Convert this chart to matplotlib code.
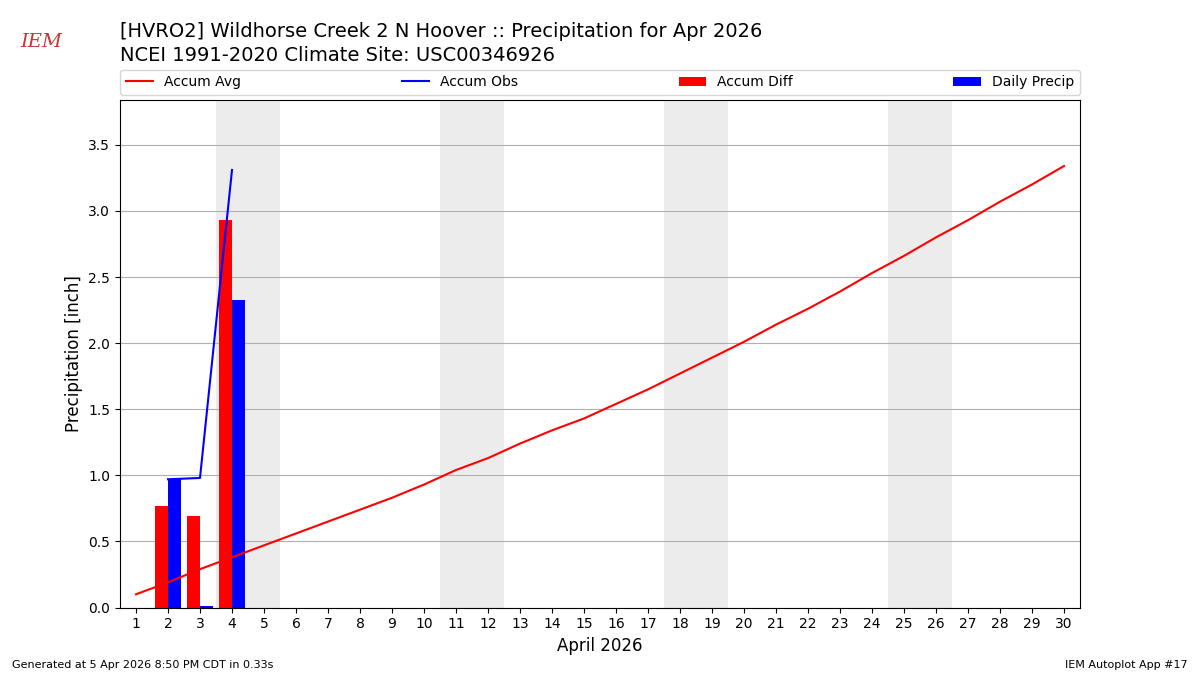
import numpy as np
import matplotlib.pyplot as plt

days = np.arange(1, 31)
accum_avg = [0.10, 0.19, 0.29, 0.38, 0.47, 0.56, 0.65, 0.74, 0.83, 0.93,
             1.04, 1.13, 1.24, 1.34, 1.43, 1.54, 1.65, 1.77, 1.89, 2.01,
             2.14, 2.26, 2.39, 2.53, 2.66, 2.80, 2.93, 3.07, 3.20, 3.34]
obs_days = [2, 3, 4]
accum_obs = [0.97, 0.98, 3.31]
daily_precip = [0.97, 0.01, 2.33]
accum_diff = [0.77, 0.69, 2.93]
weekends = [4, 5, 11, 12, 18, 19, 25, 26]

fig = plt.figure(figsize=(12, 6.75), dpi=100)
ax = fig.add_axes([0.1, 0.1, 0.8, 0.752])

for d in weekends:
    ax.axvspan(d - 0.5, d + 0.5, color='#ececec', zorder=0, lw=0)

ax.plot(days, accum_avg, color='r', label='Accum Avg', zorder=3)
ax.plot(obs_days, accum_obs, color='b', label='Accum Obs', zorder=3)
ax.bar(np.array(obs_days) - 0.2, accum_diff, width=0.4, color='r', label='Accum Diff', zorder=2)
ax.bar(np.array(obs_days) + 0.2, daily_precip, width=0.4, color='b', label='Daily Precip', zorder=2)

ax.set_xlim(0.5, 30.5)
ax.set_ylim(0, 3.84)
ax.set_xticks(days)
ax.set_yticks(np.arange(0, 3.6, 0.5))
ax.grid(axis='y', zorder=1)
ax.set_axisbelow(True)
ax.set_xlabel('April 2026', fontsize=12)
ax.set_ylabel('Precipitation [inch]', fontsize=12)
ax.legend(loc='lower left', bbox_to_anchor=(0, 1.01, 1, 0.05), ncol=4, mode='expand',
          borderaxespad=0, fontsize=10)

fig.text(0.1, 0.945, '[HVRO2] Wildhorse Creek 2 N Hoover :: Precipitation for Apr 2026', fontsize=14)
fig.text(0.1, 0.91, 'NCEI 1991-2020 Climate Site: USC00346926', fontsize=14)
fig.text(0.017, 0.93, 'IEM', fontsize=14, color='#cc3333', family='serif', style='italic')
fig.text(0.01, 0.01, 'Generated at 5 Apr 2026 8:50 PM CDT in 0.33s', fontsize=8)
fig.text(0.99, 0.01, 'IEM Autoplot App #17', fontsize=8, ha='right')

fig.savefig('out.png')
